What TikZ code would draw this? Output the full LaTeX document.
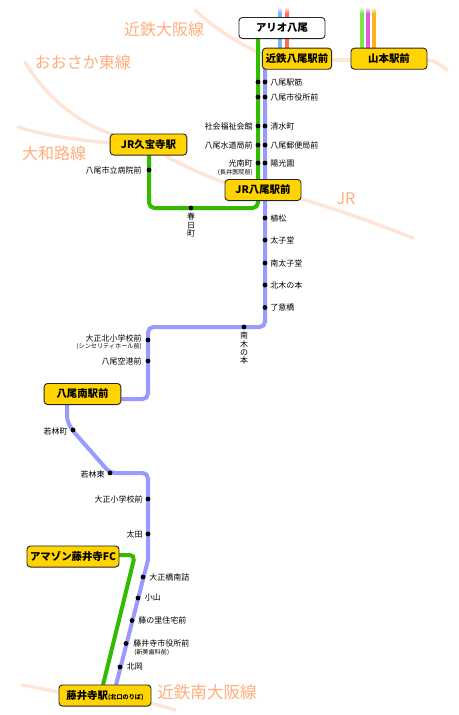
\documentclass[tikz,border=0pt]{standalone}
\usepackage{fontspec}
\setmainfont{Noto Sans CJK JP}
\definecolor{peach}{HTML}{FDE6D8}
\definecolor{lname}{HTML}{FFAE7C}
\definecolor{lgreen}{HTML}{33BB00}
\definecolor{lblue}{HTML}{9999FF}
\definecolor{boxy}{HTML}{FFD400}
\definecolor{topblue}{HTML}{77B4FF}
\definecolor{topred}{HTML}{FF6E4E}
\definecolor{topgreen}{HTML}{77E84C}
\definecolor{topmag}{HTML}{DD5CDD}
\definecolor{toporange}{HTML}{FFB020}
\tikzset{
  route/.style={line width=3pt,rounded corners=4pt,line cap=butt},
  greenroute/.style={route,draw=lgreen},
  blueroute/.style={route,draw=lblue},
  bgline/.style={draw=peach,line width=2.6pt,line cap=round},
  stopdot/.style={circle,fill=black,inner sep=0pt,minimum size=3.6pt},
  boxbase/.style={draw=black!85,line width=.7pt,rounded corners=2.6pt,inner sep=0pt,font=\bfseries\fontsize{7.8}{9}\selectfont,minimum height=15.8pt},
  stationbox/.style={boxbase,fill=boxy},
  whitebox/.style={boxbase,fill=white},
  linename/.style={text=lname,font=\fontsize{12}{14}\selectfont,inner sep=0pt},
  lblr/.style={anchor=east,inner sep=0pt,font=\fontsize{6}{7}\selectfont},
  lbll/.style={anchor=west,inner sep=0pt,font=\fontsize{6}{7}\selectfont},
  subr/.style={anchor=east,inner sep=0pt,font=\fontsize{4.6}{6}\selectfont},
  subl/.style={anchor=west,inner sep=0pt,font=\fontsize{4.6}{6}\selectfont},
  lblv/.style={anchor=north,inner sep=0pt,align=center,font=\fontsize{6}{6.1}\selectfont},
  topbar/.style={line width=3pt,line cap=butt},
}
\begin{document}
\begin{tikzpicture}[x=.75pt,y=-.75pt]
\useasboundingbox (0,0) rectangle (458,715);
\fill[white] (0,0) rectangle (458,715);
% background lines
\draw[bgline] (195,10) .. controls (212,26) and (235,42) .. (262,54);
\draw[bgline] (332,60) -- (351,60);
\draw[bgline] (427,60) .. controls (434,60) and (441,65) .. (447,70);
\draw[bgline] (25,62) .. controls (45,95) and (75,122) .. (112,134);
\draw[bgline] (18,127) .. controls (45,136) and (80,140) .. (110,143);
\draw[bgline] (167,157) .. controls (185,166) and (205,176) .. (226,183);
\draw[bgline] (301,199) .. controls (340,210) and (380,225) .. (413,238);
\draw[bgline] (22,685) -- (59,692);
\draw[bgline] (151,703) -- (175,710);
% line names
\node[linename] (nkintetsu) at (164,29) {近鉄大阪線};
\node[linename] (nhigashi) at (83,62) {おおさか東線};
\node[linename] (nyamato) at (54,153) {大和路線};
\node[linename] (njr) at (346,199) {JR};
\node[linename,font=\fontsize{12.4}{14}\selectfont] (nminami) at (207,692) {近鉄南大阪線};
% other lines at top
\draw[topbar,topblue] (280,13) -- (280,48);
\draw[topbar,topred] (287,13) -- (287,48);
\draw[topbar,topgreen] (362,13) -- (362,48);
\draw[topbar,topmag] (368,13) -- (368,48);
\draw[topbar,toporange] (374,13) -- (374,48);
\shade[top color=white,bottom color=topblue] (278,7) rectangle (282,13.2);
\shade[top color=white,bottom color=topred] (285,7) rectangle (289,13.2);
\shade[top color=white,bottom color=topgreen] (360,7) rectangle (364,13.2);
\shade[top color=white,bottom color=topmag] (366,7) rectangle (370,13.2);
\shade[top color=white,bottom color=toporange] (372,7) rectangle (376,13.2);
\coordinate (gkyu) at (149,155);
\coordinate (gc1) at (149,208);
\coordinate (gc2) at (258,208);
\coordinate (gtop) at (258,38);
\coordinate (btop) at (265,69);
\coordinate (b1) at (265,327);
\coordinate (b2) at (148,327);
\coordinate (b3) at (148,399);
\coordinate (b4) at (120,399);
\coordinate (b5) at (67,405);
\coordinate (b6) at (67,421);
\coordinate (b7) at (73,431);
\coordinate (b8) at (110,473);
\coordinate (b9) at (148,473);
\coordinate (b10) at (148,560);
\coordinate (b11) at (116,685);
\coordinate (g1) at (119,555);
\coordinate (g2) at (135,555);
\coordinate (g3) at (103,685);
% routes
\draw[greenroute] (gkyu) -- (gc1) -- (gc2) -- (gtop);
\draw[blueroute] (btop) -- (b1) -- (b2) -- (b3) -- (b4);
\draw[blueroute] (b5) -- (b6) -- (b7) -- (b8) -- (b9) [rounded corners=1pt] -- (b10) -- (b11);
\draw[greenroute] (g1) -- (g2) -- (g3);
% boxes
\node[whitebox,minimum width=64.5pt] (ario) at (282,28) {アリオ八尾};
\node[stationbox,minimum width=52pt] (kyao) at (297,58.7) {近鉄八尾駅前};
\node[stationbox,minimum width=57pt] (yama) at (389,58.7) {山本駅前};
\node[stationbox,minimum width=57pt] (jryao) at (263,190) {JR八尾駅前};
\node[stationbox,minimum width=57.5pt] (jrkyu) at (148.5,144.5) {JR久宝寺駅};
\node[stationbox,minimum width=57.5pt] (yaomin) at (82.5,394) {八尾南駅前};
\node[stationbox,minimum width=69pt] (amazon) at (73,556.5) {アマゾン藤井寺FC};
\node[stationbox,minimum width=69pt] (fujii) at (105,695.5) {藤井寺駅{\fontsize{4.6}{6}\selectfont (北口のりば)}};
% green line stops
\node[stopdot] (a1) at (258,82) {};
\node[stopdot] (a2) at (258,97) {};
\node[stopdot] (a3) at (258,126) {};
\node[stopdot] (a4) at (258,145) {};
\node[stopdot] (a5) at (258,163) {};
\node[lblr] (ta3) at (253,126) {社会福祉会館};
\node[lblr] (ta4) at (253,145) {八尾水道局前};
\node[lblr] (ta5) at (253,163) {光南町};
\node[subr] (ta5s) at (253,172.5) {(長井医院前)};
\node[stopdot] (k1) at (149,170) {};
\node[lblr] (tk1) at (142,170) {八尾市立病院前};
\node[stopdot] (k2) at (191,208) {};
\node[lblv] (tk2) at (191,213) {春\\日\\町};
% blue line stops
\node[stopdot] (c1) at (265,82) {};
\node[stopdot] (c2) at (265,97) {};
\node[stopdot] (c3) at (265,126) {};
\node[stopdot] (c4) at (265,145) {};
\node[stopdot] (c5) at (265,163) {};
\node[stopdot] (c6) at (265,218) {};
\node[stopdot] (c7) at (265,240) {};
\node[stopdot] (c8) at (265,263) {};
\node[stopdot] (c9) at (265,285) {};
\node[stopdot] (c10) at (265,307.5) {};
\node[lbll] (tc1) at (270,82) {八尾駅筋};
\node[lbll] (tc2) at (270,97) {八尾市役所前};
\node[lbll] (tc3) at (270,126) {清水町};
\node[lbll] (tc4) at (270,145) {八尾郵便局前};
\node[lbll] (tc5) at (270,163) {陽光園};
\node[lbll] (tc6) at (270,218) {植松};
\node[lbll] (tc7) at (270,240.5) {太子堂};
\node[lbll] (tc8) at (270,263) {南太子堂};
\node[lbll] (tc9) at (270,285) {北木の本};
\node[lbll] (tc10) at (270,307.5) {了意橋};
\node[stopdot] (c11) at (244,327) {};
\node[lblv] (tc11) at (244,332) {南\\木\\の\\本};
\node[stopdot] (c12) at (148,340) {};
\node[lblr] (tc12) at (142,338) {大正北小学校前};
\node[subr] (tc12s) at (142,347) {(シンセリティホール前)};
\node[stopdot] (c13) at (148,361) {};
\node[lblr] (tc13) at (142,361) {八尾空港前};
\node[stopdot] (c14) at (73,430) {};
\node[lblr] (tc14) at (68,431) {若林町};
\node[stopdot] (c15) at (110,473) {};
\node[lblr] (tc15) at (105,474) {若林東};
\node[stopdot] (c16) at (148,499) {};
\node[lblr] (tc16) at (143,499) {大正小学校前};
\node[stopdot] (c17) at (148,534) {};
\node[lblr] (tc17) at (143,534) {太田};
\node[stopdot] (c18) at (143,577) {};
\node[lbll] (tc18) at (149,577) {大正橋南詰};
\node[stopdot] (c19) at (138,598) {};
\node[lbll] (tc19) at (144.5,598) {小山};
\node[stopdot] (c20) at (132,620.5) {};
\node[lbll] (tc20) at (138,620.5) {藤の里住宅前};
\node[stopdot] (c21) at (126,643.5) {};
\node[lbll] (tc21) at (133,643) {藤井寺市役所前};
\node[subl] (tc21s) at (134,653) {(新美歯科前)};
\node[stopdot] (c22) at (120,667) {};
\node[lbll] (tc22) at (126.5,667) {北岡};
\end{tikzpicture}
\end{document}
